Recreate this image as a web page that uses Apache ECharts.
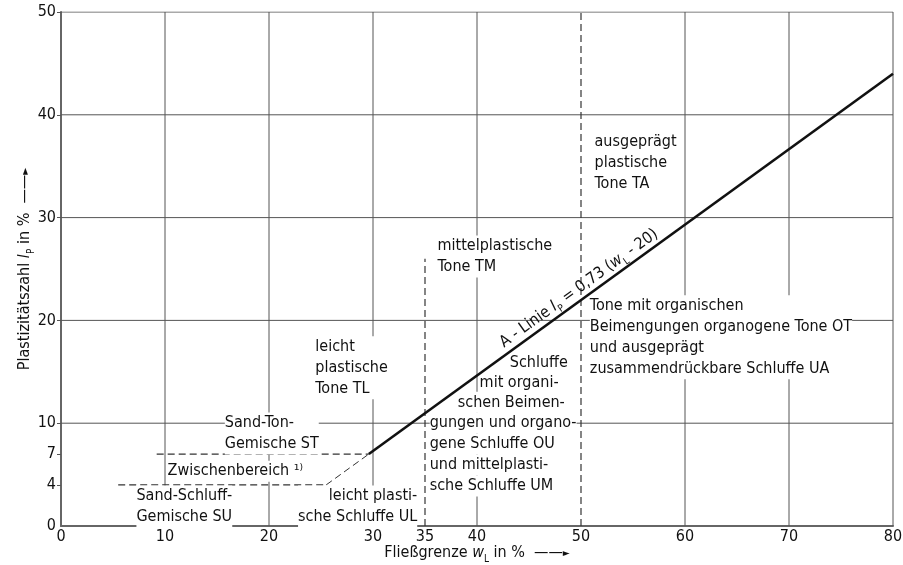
<!DOCTYPE html>
<html>
<head>
<meta charset="utf-8">
<script src="https://cdn.jsdelivr.net/npm/echarts@6/dist/echarts.min.js"></script>
<style>
html,body{margin:0;padding:0;background:#fff}
#chart{width:903px;height:565px}
</style>
</head>
<body>
<div id="chart"></div>
<script>
// axis ticks
var xTicks = [0, 10, 20, 30, 35, 40, 50, 60, 70, 80]
var yTicks = [0, 4, 7, 10, 20, 30, 40, 50]
var gridX = [10, 20, 30, 40, 60, 70, 80]
var gridY = [10, 20, 30, 40, 50]

// A-Linie and the dashed boundaries (wL, Ip)
var aLine = [[29.6, 7], [80, 44]]
var line7 = [[9.2, 7], [29.6, 7]]
var line4 = [[5.5, 4], [25.5, 4]]
var diag = [[25.5, 4], [29.6, 7]]
var line35 = [[35, 0], [35, 26]]
var line50 = [[50, 0], [50, 50]]

// area texts
var areaText = [
  'ausgeprägt\nplastische\nTone TA',
  'mittelplastische\nTone TM',
  'leicht\nplastische\nTone TL',
  'Tone mit organischen\nBeimengungen organogene Tone OT\nund ausgeprägt\nzusammendrückbare Schluffe UA',
  'Schluffe', 'mit organi-', 'schen Beimen-', 'gungen und organo-',
  'gene Schluffe OU', 'und mittelplasti-', 'sche Schluffe UM',
  'Sand-Ton-\nGemische ST',
  'Zwischenbereich ¹⁾',
  'Sand-Schluff-\nGemische SU',
  'leicht plasti-\nsche Schluffe UL'
]
// where each text sits (top-left corner, or top-right when 'right')
var areaAt = [
  [51.35, 38.3], [36.25, 28.2], [24.5, 18.4], [50.9, 22.4],
  [43.2, 16.8], [40.3, 14.9], [38.2, 13.0], [35.5, 11.0],
  [35.5, 8.95], [35.5, 6.9], [35.5, 4.86],
  [15.8, 11.0], [10.3, 6.3], [7.3, 3.9], [34.3, 3.9]
]
var areaAlign = ['left', 'left', 'left', 'left', 'left', 'left', 'left', 'left',
  'left', 'left', 'left', 'left', 'left', 'left', 'right']

var font = "'DejaVu Sans Condensed', 'Liberation Sans Narrow', sans-serif"
var ink = '#111'

var rich = {
  t: {fontSize: 16, fontFamily: font, color: ink, lineHeight: 22, verticalAlign: 'middle'},
  i: {fontSize: 16, fontFamily: font, color: ink, fontStyle: 'italic', lineHeight: 22, verticalAlign: 'middle'},
  s: {fontSize: 10, fontFamily: font, color: ink, lineHeight: 22, verticalAlign: 'bottom'},
  a: {fontSize: 10, fontFamily: font, color: ink, lineHeight: 22, verticalAlign: 'middle'}
}

var series = []
gridX.forEach(function (v) {
  series.push({type: 'line', data: [[v, 0], [v, 50]], symbol: 'none', silent: true, z: 1,
    lineStyle: {color: '#555', width: 1}})
})
gridY.forEach(function (v) {
  series.push({type: 'line', data: [[0, v], [80, v]], symbol: 'none', silent: true, z: 1,
    lineStyle: {color: '#555', width: 1}})
})
;[line7, line4, diag, line35, line50].forEach(function (d, k) {
  series.push({type: 'line', data: d, symbol: 'none', silent: true, z: 2,
    lineStyle: {color: '#333', width: k == 2 ? 1 : 1.2, type: [7, 4]}})
})

var notes = areaText.map(function (t, k) {
  return {value: areaAt[k], name: t, label: {align: areaAlign[k]}}
})
series.push({
  type: 'scatter', data: notes, symbolSize: 1, z: 3, silent: true,
  itemStyle: {color: '#fff', opacity: 1},
  label: {
    show: true, position: [0, 0], verticalAlign: 'top',
    formatter: function (p) { return p.name },
    fontFamily: font, fontSize: 16, lineHeight: 21, color: ink,
    textBorderWidth: 0, backgroundColor: '#fff'
  }
})

series.push({type: 'line', data: aLine, symbol: 'none', silent: true, z: 5,
  lineStyle: {color: '#111', width: 2.6}})

// A-Linie label, rotated along the line
series.push({
  type: 'scatter', data: [[49.8, 23.1]], symbolSize: 1, z: 4, silent: true,
  itemStyle: {color: '#fff', opacity: 1},
  label: {
    show: true, position: 'inside', rotate: 35.8, align: 'center', verticalAlign: 'middle',
    textBorderWidth: 0,
    formatter: '{t|A - Linie }{i|I}{s|P}{t| = 0,73 (}{i|w}{s|L}{t| - 20)}',
    rich: {
      t: {fontSize: 16, fontFamily: font, color: ink, lineHeight: 22, verticalAlign: 'middle', textBorderWidth: 0},
      i: {fontSize: 16, fontFamily: font, color: ink, fontStyle: 'italic', lineHeight: 22, verticalAlign: 'middle', textBorderWidth: 0},
      s: {fontSize: 10, fontFamily: font, color: ink, lineHeight: 22, verticalAlign: 'bottom', textBorderWidth: 0}
    }
  }
})

var option = {
  animation: false,
  backgroundColor: '#fff',
  grid: {left: 61, right: 10, top: 12, bottom: 39, outerBoundsMode: 'none'},
  xAxis: {
    type: 'value', min: 0, max: 80, interval: 5,
    name: '{t|Fließgrenze }{i|w}{s|L}{t| in %  ——}{a|►}',
    nameLocation: 'middle', nameGap: 16, nameMoveOverlap: false,
    nameTextStyle: {rich: rich},
    axisLine: {lineStyle: {color: '#666', width: 2}},
    axisTick: {show: false},
    splitLine: {show: false},
    axisLabel: {customValues: xTicks, fontFamily: font, fontSize: 16, color: ink, margin: 3}
  },
  yAxis: {
    type: 'value', min: 0, max: 50, interval: 1,
    name: '{t|Plastizitätszahl }{i|I}{s|P}{t| in %  ——}{a|►}',
    nameLocation: 'middle', nameGap: 25, nameMoveOverlap: false,
    nameTextStyle: {rich: rich},
    axisLine: {show: true, lineStyle: {color: '#666', width: 2}},
    axisTick: {show: true, customValues: [4, 7, 10, 20, 30, 40, 50], length: 4, lineStyle: {color: '#555'}},
    splitLine: {show: false},
    axisLabel: {customValues: yTicks, fontFamily: font, fontSize: 16, color: ink, margin: 5}
  },
  series: series
}

var chart = echarts.init(document.getElementById('chart'))
chart.setOption(option)
window.addEventListener('resize', function () {
  chart.resize()
})
</script>
</body>
</html>
